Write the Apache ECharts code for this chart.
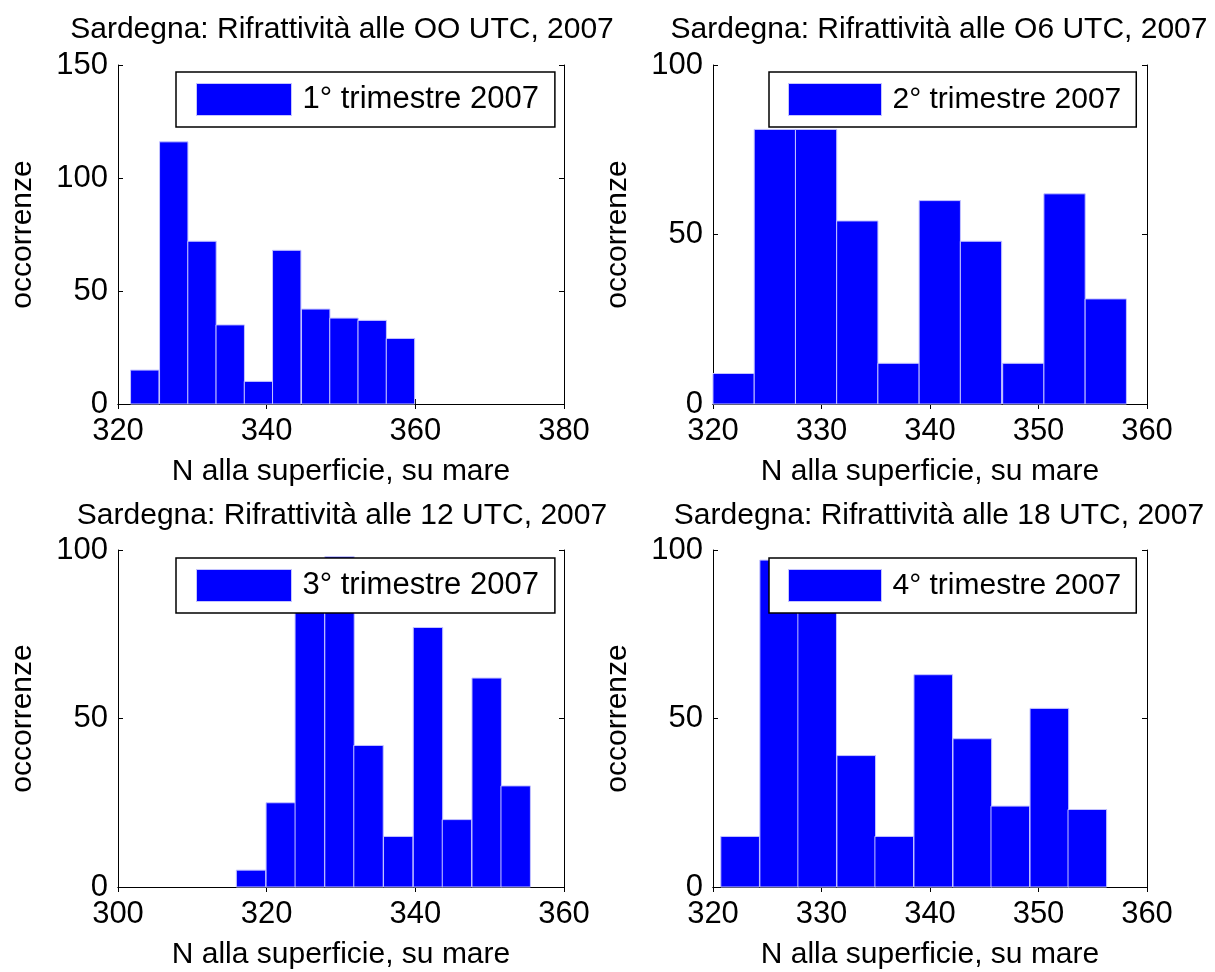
<!DOCTYPE html>
<html>
<head>
<meta charset="utf-8">
<title>Sardegna: Rifrattività 2007</title>
<script src="https://cdn.jsdelivr.net/npm/echarts@6/dist/echarts.min.js"></script>
<style>
  html, body { margin: 0; padding: 0; background: #fff; }
  #chart { width: 1215px; height: 972px; }
</style>
</head>
<body>
<div id="chart"></div>
<script>
// Histogram panels: refractivity N at the surface over the sea, Sardinia 2007.
const panelTitles = [
  'Sardegna: Rifrattività alle OO UTC, 2007',
  'Sardegna: Rifrattività alle O6 UTC, 2007',
  'Sardegna: Rifrattività alle 12 UTC, 2007',
  'Sardegna: Rifrattività alle 18 UTC, 2007'
];
const legendNames = [
  '1° trimestre 2007',
  '2° trimestre 2007',
  '3° trimestre 2007',
  '4° trimestre 2007'
];
const xAxisName = 'N alla superficie, su mare';
const yAxisName = 'occorrenze';

// Bin centres and widths (N units) and counts per bin
const centres1 = [323.6, 327.5, 331.3, 335.1, 338.9, 342.7, 346.6, 350.4, 354.2, 358.0];
const counts1  = [15, 116, 72, 35, 10, 68, 42, 38, 37, 29];
const width1   = 3.82;

const centres2 = [321.9, 325.7, 329.5, 333.3, 337.1, 340.9, 344.7, 348.6, 352.4, 356.2];
const counts2  = [9, 81, 81, 54, 12, 60, 48, 12, 62, 31];
const width2   = 3.806;

const centres3 = [317.9, 321.9, 325.8, 329.8, 333.7, 337.7, 341.7, 345.6, 349.6, 353.5];
const counts3  = [5, 25, 82, 98, 42, 15, 77, 20, 62, 30];
const width3   = 3.96;

const centres4 = [322.5, 326.1, 329.6, 333.2, 336.7, 340.3, 343.9, 347.4, 351.0, 354.5];
const counts4  = [15, 97, 82, 39, 15, 63, 44, 24, 53, 23];
const width4   = 3.56;

// Axis ranges and tick steps
const xMin  = [320, 320, 300, 320];
const xMax  = [380, 360, 360, 360];
const xStep = [20, 10, 20, 10];
const yMax  = [150, 100, 100, 100];
const yStep = [50, 50, 50, 50];

const panels = [
  { centres: centres1, counts: counts1, width: width1 },
  { centres: centres2, counts: counts2, width: width2 },
  { centres: centres3, counts: counts3, width: width3 },
  { centres: centres4, counts: counts4, width: width4 }
];

const FONT = "'Liberation Sans', Arial, Helvetica, sans-serif";
const BAR = '#0000ff';
const EDGE = '#c4c4ff';

// Plot rectangles (px)
const grids = [
  { left: 118, top: 65,  width: 446, height: 339 },
  { left: 713, top: 65,  width: 434, height: 339 },
  { left: 118, top: 550, width: 446, height: 337 },
  { left: 713, top: 550, width: 434, height: 337 }
];
const titleY = [10, 10, 496, 496];
const titleShift = [-4, 4, -4, 4];
const legendBoxes = [
  { left: 176, top: 72,  padding: [11, 16, 11, 20], itemWidth: 95, fontSize: 31 },
  { left: 769, top: 72,  padding: [11, 15, 11, 19], itemWidth: 93, fontSize: 30 },
  { left: 176, top: 558, padding: [11, 16, 11, 20], itemWidth: 95, fontSize: 31 },
  { left: 769, top: 558, padding: [11, 15, 11, 19], itemWidth: 93, fontSize: 30 }
];

function histItem(width) {
  return function (params, api) {
    const c = api.value(0);
    const n = api.value(1);
    const p0 = api.coord([c - width / 2, n]);
    const p1 = api.coord([c + width / 2, 0]);
    return {
      type: 'rect',
      shape: { x: p0[0], y: p0[1], width: p1[0] - p0[0], height: p1[1] - p0[1] },
      style: { fill: BAR, stroke: EDGE, lineWidth: 1 }
    };
  };
}

const axisLine = { show: true, lineStyle: { color: '#000', width: 1 } };
const tickStyle = { show: true, inside: true, length: 5, lineStyle: { color: '#000', width: 1 } };

const option = {
  animation: false,
  backgroundColor: '#fff',
  title: [], grid: [], xAxis: [], yAxis: [], legend: [], series: []
};

panels.forEach(function (p, i) {
  const g = grids[i];
  option.grid.push({ left: g.left, top: g.top, width: g.width, height: g.height, containLabel: false });
  option.title.push({
    text: panelTitles[i],
    left: g.left + g.width / 2 + titleShift[i],
    top: titleY[i],
    textAlign: 'center',
    textStyle: { fontFamily: FONT, fontSize: 30, fontWeight: 'normal', color: '#000' }
  });
  // bottom and top x axes (top one carries only the mirrored ticks)
  option.xAxis.push({
    type: 'value', gridIndex: i, position: 'bottom',
    min: xMin[i], max: xMax[i], interval: xStep[i],
    name: xAxisName, nameLocation: 'middle', nameGap: 53,
    nameTextStyle: { fontFamily: FONT, fontSize: 30, color: '#000' },
    axisLine: axisLine, axisTick: tickStyle,
    axisLabel: { fontFamily: FONT, fontSize: 31, color: '#000', margin: 12 },
    splitLine: { show: false }
  });
  option.xAxis.push({
    type: 'value', gridIndex: i, position: 'top',
    min: xMin[i], max: xMax[i], interval: xStep[i],
    axisLine: axisLine, axisTick: tickStyle,
    axisLabel: { show: false }, splitLine: { show: false }
  });
  option.yAxis.push({
    type: 'value', gridIndex: i, position: 'left',
    min: 0, max: yMax[i], interval: yStep[i],
    name: yAxisName, nameLocation: 'middle', nameGap: 80,
    nameTextStyle: { fontFamily: FONT, fontSize: 30, color: '#000' },
    axisLine: axisLine, axisTick: tickStyle,
    axisLabel: { fontFamily: FONT, fontSize: 31, color: '#000', margin: 10 },
    splitLine: { show: false }
  });
  option.yAxis.push({
    type: 'value', gridIndex: i, position: 'right',
    min: 0, max: yMax[i], interval: yStep[i],
    axisLine: axisLine, axisTick: tickStyle,
    axisLabel: { show: false }, splitLine: { show: false }
  });

  const lb = legendBoxes[i];
  option.legend.push({
    data: [legendNames[i]],
    left: lb.left, top: lb.top, padding: lb.padding,
    orient: 'horizontal',
    itemWidth: lb.itemWidth, itemHeight: 32,
    icon: 'rect',
    backgroundColor: '#fff', borderColor: '#000', borderWidth: 1.5,
    selectedMode: false,
    itemStyle: { color: BAR, borderColor: EDGE, borderWidth: 1 },
    textStyle: { fontFamily: FONT, fontSize: lb.fontSize, color: '#000', lineHeight: 32, padding: [0, 0, 0, 6] }
  });

  option.series.push({
    name: legendNames[i],
    type: 'custom',
    xAxisIndex: 2 * i,
    yAxisIndex: 2 * i,
    itemStyle: { color: BAR },
    renderItem: histItem(p.width),
    data: p.centres.map(function (c, k) { return [c, p.counts[k]]; })
  });
});

const chart = echarts.init(document.getElementById('chart'), null, { renderer: 'canvas' });
chart.setOption(option);
</script>
</body>
</html>
